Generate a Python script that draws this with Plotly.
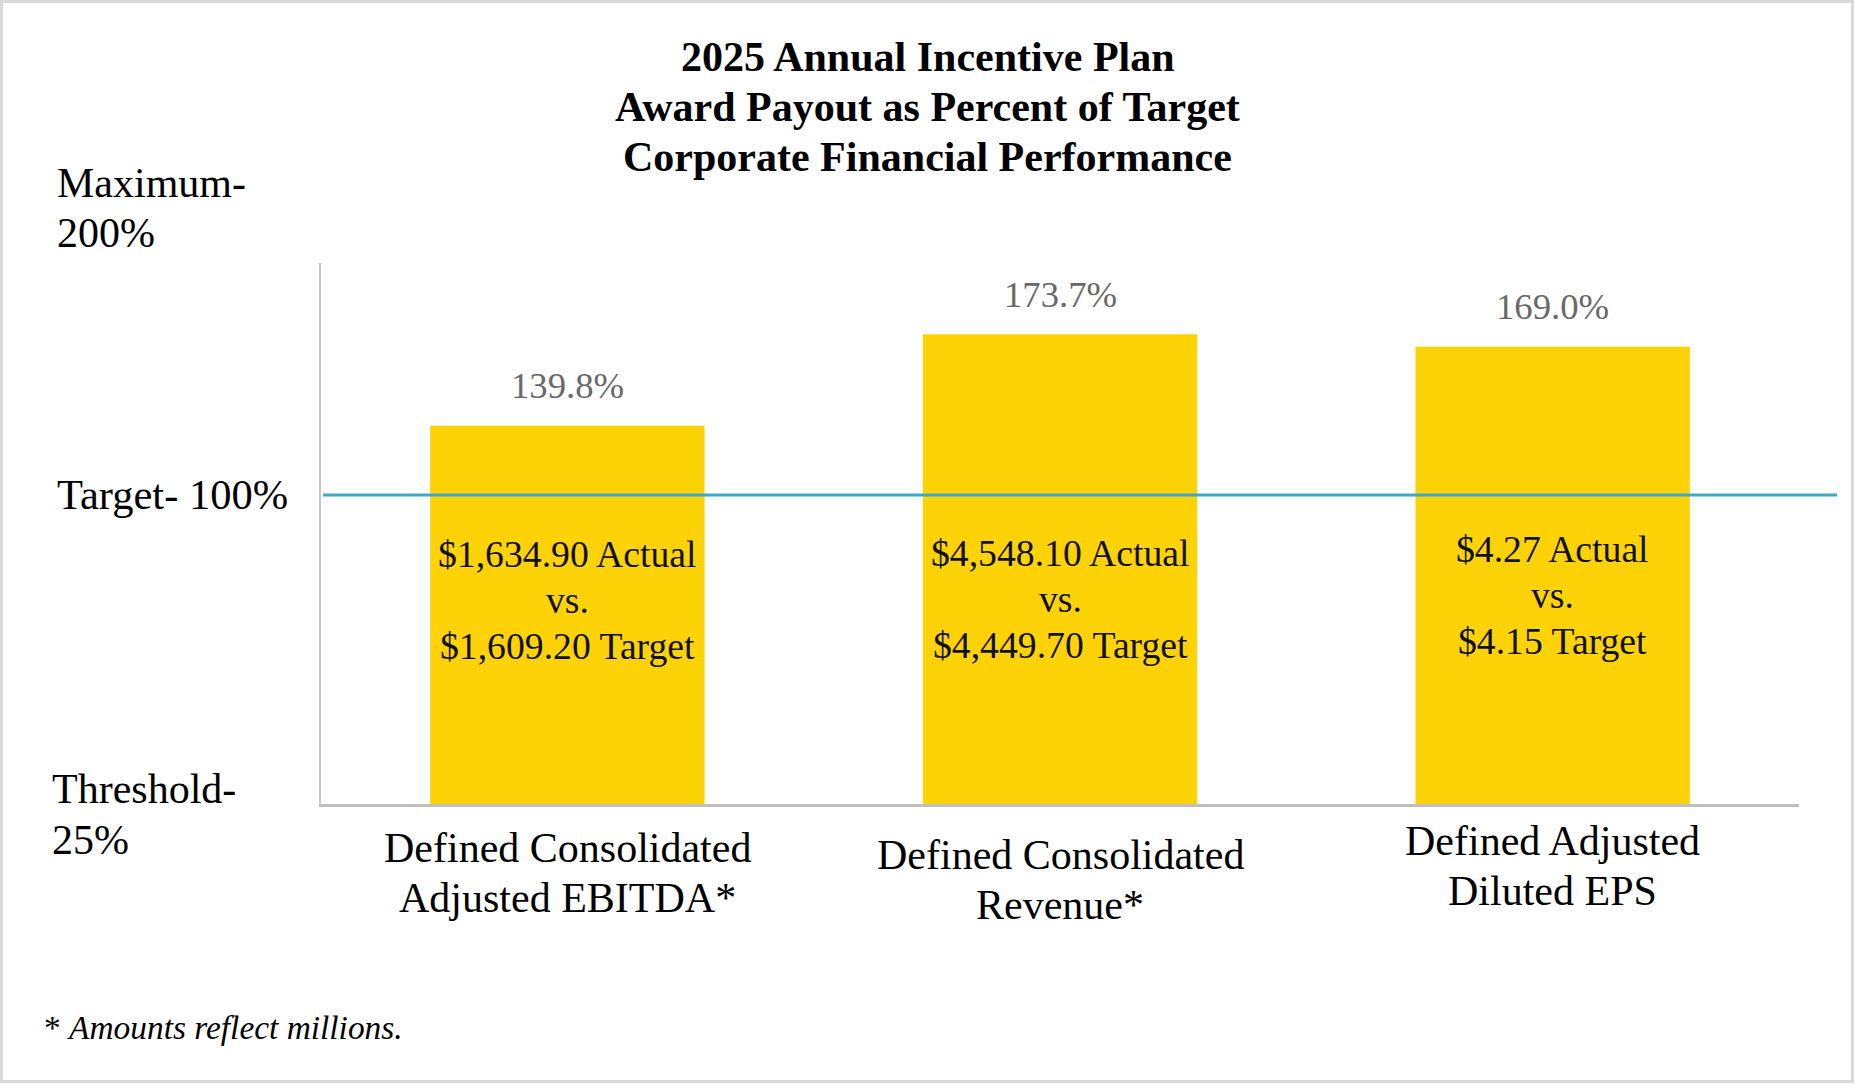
import plotly.graph_objects as go

# ---------------- data ----------------
categories = ["EBITDA", "Revenue", "EPS"]
category_labels = [
    ["Defined Consolidated", "Adjusted EBITDA*"],
    ["Defined Consolidated", "Revenue*"],
    ["Defined Adjusted", "Diluted EPS"],
]
payout_pct = [139.8, 173.7, 169.0]
actual_values = ["$1,634.90", "$4,548.10", "$4.27"]
target_values = ["$1,609.20", "$4,449.70", "$4.15"]
title_lines = [
    "2025 Annual Incentive Plan",
    "Award Payout as Percent of Target",
    "Corporate Financial Performance",
]
max_label = ["Maximum-", "200%"]
target_label = "Target- 100%"
threshold_label = ["Threshold-", "25%"]
footnote_star = "*"
footnote_text = "Amounts reflect millions."
y_range = [0, 200]

# ---------------- layout geometry ----------------
W, H = 1855, 1086
L, R, T, B = 321, 56, 263, 282
plot_w = W - L - R
plot_h = H - T - B
FONT = "Liberation Serif"


def py(p):
    return (H - B - p) / plot_h


def px(p):
    return (p - L) / plot_w


fig = go.Figure()
fig.add_trace(go.Bar(
    x=categories, y=payout_pct,
    marker=dict(color="#FDD308", line=dict(width=0)),
    hoverinfo="skip",
))

ann = []
# title
for i, t in enumerate(title_lines):
    ann.append(dict(text="<b>%s</b>" % t, xref="paper", yref="paper",
                    x=px(W / 2), y=py(57 + i * 50), xanchor="center", yanchor="middle",
                    showarrow=False, font=dict(family=FONT, size=42, color="#000000")))

# level labels on the left
for i, t in enumerate(max_label):
    ann.append(dict(text=t, xref="paper", yref="paper", x=px(55), y=py(183 + i * 50),
                    xanchor="left", yanchor="middle", showarrow=False,
                    font=dict(family=FONT, size=42, color="#000000")))
ann.append(dict(text=target_label, xref="paper", yref="paper", x=px(55), y=py(494),
                xanchor="left", yanchor="middle", showarrow=False,
                font=dict(family=FONT, size=42.5, color="#000000")))
for i, t in enumerate(threshold_label):
    ann.append(dict(text=t, xref="paper", yref="paper", x=px(50), y=py(789 + i * 51),
                    xanchor="left", yanchor="middle", showarrow=False,
                    font=dict(family=FONT, size=42, color="#000000")))

# percent labels above bars
for c, v in zip(categories, payout_pct):
    ann.append(dict(text="%.1f%%" % v, xref="x", yref="y", x=c, y=v, yshift=40,
                    xanchor="center", yanchor="middle", showarrow=False,
                    font=dict(family=FONT, size=36.7, color="#696969")))

# inside bar labels
inside_center_px = [600, 599, 595]
for c, a, tg, cy in zip(categories, actual_values, target_values, inside_center_px):
    for j, t in enumerate([a + " Actual", "vs.", tg + " Target"]):
        ann.append(dict(text=t, xref="x", yref="paper", x=c, y=py(cy + (j - 1) * 46),
                        xanchor="center", yanchor="middle", showarrow=False,
                        font=dict(family=FONT, size=37.7, color="#111111")))

# category labels
cat_first_px = [848, 855, 841]
for c, lines, cy in zip(categories, category_labels, cat_first_px):
    for j, t in enumerate(lines):
        ann.append(dict(text=t, xref="x", yref="paper", x=c, y=py(cy + j * 50),
                        xanchor="center", yanchor="middle", showarrow=False,
                        font=dict(family=FONT, size=42, color="#000000")))

# footnote
ann.append(dict(text="%s <i>%s</i>" % (footnote_star, footnote_text), xref="paper", yref="paper",
                x=px(42), y=py(1027), xanchor="left", yanchor="middle", showarrow=False,
                font=dict(family=FONT, size=33.4, color="#000000")))

shapes = [
    # outer frame
    dict(type="rect", xref="paper", yref="paper", x0=px(1.5), x1=px(1852.5),
         y0=py(1081.5), y1=py(1.5), line=dict(color="#d9d9d9", width=3), layer="below"),
    # target reference line
    dict(type="line", xref="paper", yref="paper", x0=px(323), x1=px(1837),
         y0=py(495), y1=py(495), line=dict(color="#3FA7C8", width=3), layer="above"),
]

fig.update_layout(
    width=W, height=H,
    margin=dict(l=L, r=R, t=T, b=B, pad=0),
    paper_bgcolor="#ffffff", plot_bgcolor="#ffffff",
    showlegend=False,
    bargap=0.443,
    annotations=ann,
    shapes=shapes,
    xaxis=dict(type="category", range=[-0.5, 2.5], showline=True, linecolor="#bfbfbf",
               linewidth=3, showticklabels=False, ticks="", showgrid=False, zeroline=False,
               fixedrange=True),
    yaxis=dict(range=y_range, showline=True, linecolor="#c8c8c8", linewidth=2,
               showticklabels=False, ticks="", showgrid=False, zeroline=False,
               fixedrange=True),
)

fig.write_html("out.html", config={"displayModeBar": False},
               post_script="document.body.style.margin='0px'; document.body.style.overflow='hidden';")
